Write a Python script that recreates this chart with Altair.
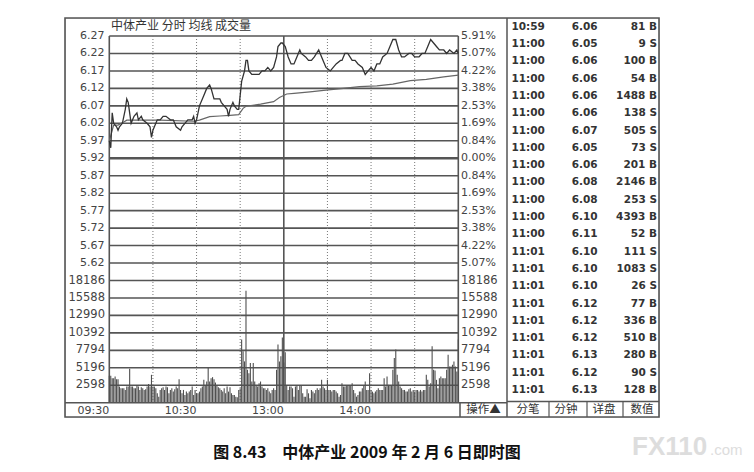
import altair as alt
import pandas as pd

# ---------------- data ----------------
price_minutes = [0, 1, 2, 3, 5, 6, 7, 9, 11, 12, 13, 14, 15, 17, 19, 20, 22, 23, 26, 28, 29, 30, 33, 35, 37, 39,
                 42, 44, 46, 49, 50, 52, 54, 57, 58, 59, 60, 62, 65, 67, 69, 70, 72, 74, 76, 77, 79, 81, 82, 83,
                 85, 86, 88, 89, 90, 91, 93, 94, 95, 96, 98, 100, 103, 105, 107, 109, 111, 113, 115, 116, 118,
                 119, 121, 123, 125, 127, 129, 131, 132, 135, 137, 139, 141, 144, 145, 147, 149, 152, 154, 156,
                 159, 160, 162, 164, 167, 169, 171, 174, 176, 178, 180, 182, 184, 186, 188, 191, 193, 195, 197,
                 199, 201, 203, 206, 208, 210, 213, 215, 217, 219, 221, 223, 225, 227, 230, 232, 234, 237, 239, 240]
price_values = [5.97, 5.95, 6.05, 6.02, 6.01, 6.00, 6.01, 6.02, 6.06, 6.09, 6.08, 6.05, 6.02, 6.04, 6.05, 6.03,
                6.04, 6.03, 6.02, 6.01, 5.98, 6.00, 6.03, 6.03, 6.04, 6.04, 6.03, 6.03, 6.01, 6.00, 6.01, 6.02,
                6.03, 6.03, 6.04, 6.02, 6.03, 6.07, 6.10, 6.12, 6.13, 6.12, 6.09, 6.09, 6.09, 6.08, 6.07, 6.06,
                6.04, 6.06, 6.08, 6.07, 6.06, 6.06, 6.10, 6.14, 6.17, 6.20, 6.20, 6.17, 6.16, 6.16, 6.16, 6.17,
                6.17, 6.18, 6.17, 6.18, 6.21, 6.24, 6.25, 6.25, 6.24, 6.21, 6.19, 6.19, 6.21, 6.23, 6.22, 6.21,
                6.20, 6.20, 6.21, 6.23, 6.22, 6.20, 6.18, 6.17, 6.18, 6.19, 6.20, 6.20, 6.22, 6.22, 6.20, 6.20,
                6.19, 6.18, 6.16, 6.17, 6.18, 6.17, 6.19, 6.19, 6.21, 6.22, 6.24, 6.26, 6.26, 6.23, 6.21, 6.21,
                6.22, 6.22, 6.21, 6.21, 6.22, 6.22, 6.24, 6.26, 6.25, 6.24, 6.23, 6.23, 6.22, 6.23, 6.22, 6.23, 6.22]

avg_minutes = [0, 3, 6, 10, 12, 35, 58, 62, 69, 76, 83, 89, 92, 94, 104, 113, 117, 122, 127, 138, 149, 161,
               172, 184, 195, 207, 218, 230, 240]
avg_values = [5.97, 6.015, 6.015, 6.024, 6.029, 6.029, 6.026, 6.029, 6.039, 6.041, 6.043, 6.045, 6.063, 6.069,
              6.075, 6.082, 6.094, 6.104, 6.106, 6.110, 6.115, 6.120, 6.125, 6.127, 6.132, 6.142, 6.146, 6.153, 6.158]

volume_values = [
    4000, 4000, 3650, 3650, 3900, 3500, 3500, 2400, 2150, 2150,
    2150, 1900, 2400, 2400, 5050, 2400, 2400, 2150, 2150, 2650,
    2400, 1900, 2300, 2150, 1900, 2000, 2400, 2800, 2400, 4150,
    2400, 2400, 2150, 1400, 900, 1900, 2150, 2300, 1900, 2400,
    2300, 1400, 1900, 2150, 1650, 2000, 2400, 2150, 3500, 1900,
    1400, 1900, 1150, 1650, 1400, 1650, 1900, 2400, 1150, 1900,
    1400, 1400, 1650, 2150, 2400, 3400, 2650, 3150, 5150, 3150,
    3650, 3800, 3500, 3000, 2650, 2300, 2150, 1900, 1650, 2150,
    1400, 2400, 1650, 2300, 1400, 1150, 1150, 900, 800, 1900,
    2150, 9400, 7650, 6150, 16650, 4900, 4400, 5900, 3150, 5900,
    3150, 2650, 2400, 2900, 3150, 2400, 2150, 2150, 1900, 2150,
    1650, 1400, 1900, 2150, 1900, 4900, 8650, 6150, 6900, 9700,
    6000, 7500, 2650, 1900, 2400, 2400, 2150, 900, 2400, 2650,
    1900, 2650, 2650, 1400, 900, 900, 2000, 1400, 650, 1900,
    1650, 1400, 1900, 2150, 1900, 2150, 3400, 2400, 2150, 1900,
    3400, 1900, 1900, 1650, 1900, 1900, 1650, 1400, 900, 1150,
    2900, 2400, 2400, 2650, 2650, 2650, 2650, 2900, 1900, 1400,
    900, 1150, 1650, 1650, 2150, 2650, 3150, 1900, 1900, 4400,
    1900, 1650, 1400, 1650, 1900, 2150, 1900, 1900, 1900, 3650,
    2400, 3900, 2650, 2650, 2650, 4900, 6650, 7900, 4150, 3150,
    2400, 2150, 1900, 1900, 1650, 1650, 2000, 2150, 1650, 1900,
    1650, 1900, 1900, 1650, 1900, 1650, 1900, 1900, 4150, 3400,
    2400, 2900, 8400, 4900, 4800, 3400, 2150, 3650, 3900, 3650,
    3650, 3650, 4900, 7150, 5400, 5400, 5650, 6150, 5400, 4650,
    9400]

price_ticks = [6.27, 6.22, 6.17, 6.12, 6.07, 6.02, 5.97, 5.92, 5.87, 5.82, 5.77, 5.72, 5.67, 5.62]
price_tick_labels = ["6.27", "6.22", "6.17", "6.12", "6.07", "6.02", "5.97", "5.92", "5.87", "5.82",
                     "5.77", "5.72", "5.67", "5.62"]
pct_tick_labels = ["5.91%", "5.07%", "4.22%", "3.38%", "2.53%", "1.69%", "0.84%", "0.00%", "0.84%", "1.69%",
                   "2.53%", "3.38%", "4.22%", "5.07%"]
vol_ticks = [18186, 15588, 12990, 10392, 7794, 5196, 2598]
vol_tick_labels = ["18186", "15588", "12990", "10392", "7794", "5196", "2598"]
time_ticks = [0, 60, 120, 180]
time_labels = ["09:30", "10:30", "13:00", "14:00"]
grid_dotted = [30, 60, 90, 150, 180, 210]
grid_solid = [0, 120, 240]

tick_times = ["10:59", "11:00", "11:00", "11:00", "11:00", "11:00", "11:00", "11:00", "11:00", "11:00",
              "11:00", "11:00", "11:00", "11:01", "11:01", "11:01", "11:01", "11:01", "11:01", "11:01",
              "11:01", "11:01"]
tick_prices = ["6.06", "6.05", "6.06", "6.06", "6.06", "6.06", "6.07", "6.05", "6.06", "6.08", "6.08",
               "6.10", "6.11", "6.10", "6.10", "6.10", "6.12", "6.12", "6.12", "6.13", "6.12", "6.13"]
tick_vols = [81, 9, 100, 54, 1488, 138, 505, 73, 201, 2146, 253, 4393, 52, 111, 1083, 26, 77, 336, 510, 280, 90, 128]
tick_sides = ["B", "S", "B", "B", "B", "S", "S", "S", "B", "B", "S", "B", "B", "S", "S", "S", "B", "B", "B", "B",
              "S", "B"]
buttons = ["分笔", "分钟", "详盘", "数值"]

title_text = "中体产业  分时 均线 成交量"
caption_text = "图 8.43　中体产业 2009 年 2 月 6 日即时图"

# ---------------- layout / style ----------------
W, H = 594, 399          # the outer frame
X_RANGE = [44.3, 393.3]
P_RANGE = [262.5, 18]
V_RANGE = [384.7, 262.5]
LINE = "#555555"
NUM = "DejaVu Sans"
CJK = "Noto Sans CJK SC"


def xs():
    return alt.Scale(domain=[0, 240], range=X_RANGE, nice=False, zero=False)


def ps():
    return alt.Scale(domain=[5.57, 6.27], range=P_RANGE, nice=False, zero=False)


def vs():
    return alt.Scale(domain=[0, 18186], range=V_RANGE, nice=False, zero=False)


ONE = pd.DataFrame({"k": [0]})


def hline(y, x1, x2, w=1.5, color=LINE):
    return alt.Chart(ONE).mark_rule(color=color, strokeWidth=w).encode(
        y=alt.value(y), x=alt.value(x1), x2=alt.value(x2))


def vline(x, y1, y2, w=1.5, color=LINE):
    return alt.Chart(ONE).mark_rule(color=color, strokeWidth=w).encode(
        x=alt.value(x), y=alt.value(y1), y2=alt.value(y2))


def label(text, x, y, size=12, font=CJK, align="left", weight="normal", color="#333333", baseline="middle"):
    return alt.Chart(ONE).mark_text(text=text, align=align, baseline=baseline, fontSize=size, font=font,
                                    fontWeight=weight, color=color).encode(x=alt.value(x), y=alt.value(y))


price_df = pd.DataFrame({"minute": price_minutes, "price": price_values})
avg_df = pd.DataFrame({"minute": avg_minutes, "price": avg_values})
vol_df = pd.DataFrame({"minute": list(range(len(volume_values))), "volume": volume_values,
                       "base": [0] * len(volume_values)})
pgrid = pd.DataFrame({"price": price_ticks, "label": price_tick_labels, "pct": pct_tick_labels,
                      "x0": 0, "x1": 240})
vgrid = pd.DataFrame({"volume": vol_ticks, "label": vol_tick_labels, "x0": 0, "x1": 240})
table = pd.DataFrame({"row": list(range(len(tick_times))), "time": tick_times, "price": tick_prices,
                      "vol": [f"{v} {s}" for v, s in zip(tick_vols, tick_sides)]})

layers = []

# frame
layers.append(alt.Chart(ONE).mark_rect(fillOpacity=0, stroke=LINE, strokeWidth=1.6).encode(
    x=alt.value(0), x2=alt.value(W), y=alt.value(0), y2=alt.value(H)))

# horizontal price grid
layers.append(alt.Chart(pgrid).mark_rule(color=LINE).encode(
    x=alt.X("x0:Q", scale=xs(), axis=None), x2="x1:Q",
    y=alt.Y("price:Q", scale=ps(), axis=None),
    strokeWidth=alt.condition("datum.price == 5.92", alt.value(2.4), alt.value(1.6))))
# horizontal volume grid
layers.append(alt.Chart(vgrid).mark_rule(color=LINE, strokeWidth=1.6).encode(
    x=alt.X("x0:Q", scale=xs(), axis=None), x2="x1:Q",
    y=alt.Y("volume:Q", scale=vs(), axis=None)))
# vertical grids
layers.append(alt.Chart(pd.DataFrame({"minute": grid_dotted})).mark_rule(
    color="#777777", strokeWidth=1, strokeDash=[1, 2]).encode(
    x=alt.X("minute:Q", scale=xs(), axis=None), y=alt.value(P_RANGE[1]), y2=alt.value(V_RANGE[0])))
layers.append(alt.Chart(pd.DataFrame({"minute": grid_solid})).mark_rule(
    color=LINE, strokeWidth=1.6).encode(
    x=alt.X("minute:Q", scale=xs(), axis=None), y=alt.value(P_RANGE[1]), y2=alt.value(V_RANGE[0])))

# volume sticks
layers.append(alt.Chart(vol_df).mark_rule(color="#505050", strokeWidth=1.1).encode(
    x=alt.X("minute:Q", scale=xs(), axis=None),
    y=alt.Y("volume:Q", scale=vs(), axis=None), y2="base:Q"))

# average and price lines
layers.append(alt.Chart(avg_df).mark_line(color="#666666", strokeWidth=1.2).encode(
    x=alt.X("minute:Q", scale=xs(), axis=None), y=alt.Y("price:Q", scale=ps(), axis=None)))
layers.append(alt.Chart(price_df).mark_line(color="#333333", strokeWidth=1.3).encode(
    x=alt.X("minute:Q", scale=xs(), axis=None), y=alt.Y("price:Q", scale=ps(), axis=None)))

# axis labels
layers.append(alt.Chart(pgrid).mark_text(align="right", baseline="middle", font=NUM, fontSize=11,
                                         color="#444444").encode(
    x=alt.value(39.5), y=alt.Y("price:Q", scale=ps(), axis=None), text="label:N"))
layers.append(alt.Chart(pgrid).mark_text(align="left", baseline="middle", font=NUM, fontSize=11,
                                         color="#444444").encode(
    x=alt.value(396), y=alt.Y("price:Q", scale=ps(), axis=None), text="pct:N"))
layers.append(alt.Chart(vgrid).mark_text(align="right", baseline="middle", font=NUM, fontSize=11.5,
                                         color="#444444").encode(
    x=alt.value(40), y=alt.Y("volume:Q", scale=vs(), axis=None), text="label:N"))
layers.append(alt.Chart(vgrid).mark_text(align="left", baseline="middle", font=NUM, fontSize=11.5,
                                         color="#444444").encode(
    x=alt.value(396), y=alt.Y("volume:Q", scale=vs(), axis=None), text="label:N"))
layers.append(alt.Chart(pd.DataFrame({"minute": time_ticks, "label": time_labels})).mark_text(
    align="right", baseline="middle", font=NUM, fontSize=11, color="#444444").encode(
    x=alt.X("minute:Q", scale=xs(), axis=None), y=alt.value(392.5), text="label:N"))

# separators of the bottom row / table
layers.append(hline(V_RANGE[0], 0, 442))
layers.append(vline(395, V_RANGE[0], H))
layers.append(vline(442, 0, H))
layers.append(hline(383.5, 442, W))
for xx in [484, 522, 558]:
    layers.append(vline(xx, 383.5, H, w=1.2))

# title & bottom row texts
layers.append(label(title_text, 46, 8, size=12))
layers.append(label("操作▲", 418.5, 392, size=11.5, align="center"))
layers.append(alt.Chart(pd.DataFrame({"b": buttons})).mark_text(
    baseline="middle", align="center", font=CJK, fontSize=11.5, color="#333333").encode(
    x=alt.X("b:N", sort=buttons, scale=alt.Scale(type="point", domain=buttons, range=[463, 577], padding=0),
            axis=None),
    y=alt.value(392), text="b:N"))

# tick table
rs = alt.Scale(domain=[0, 21], range=[8.7, 372], nice=False, zero=False)
for col, xpos, al in [("time", 446.5, "left"), ("price", 506.7, "left"), ("vol", 592, "right")]:
    layers.append(alt.Chart(table).mark_text(align=al, baseline="middle", font=NUM, fontSize=10.5,
                                             fontWeight="bold", color="#333333").encode(
        x=alt.value(xpos), y=alt.Y("row:Q", scale=rs, axis=None), text=f"{col}:N"))

# caption and watermark
layers.append(label(caption_text, 302, 435, size=16, weight="bold", align="center", color="#111111"))
layers.append(label("FX110", 567, 437, size=26, font="Liberation Sans", weight="bold", color="#dddddd",
                    baseline="alphabetic"))
layers.append(label(".com", 645, 437, size=15, font="Liberation Sans", color="#dddddd",
                    baseline="alphabetic"))

chart = alt.layer(*layers).resolve_scale(x="independent", y="independent").properties(
    width=W, height=H,
    autosize=alt.AutoSizeParams(type="none"),
    padding={"left": 57, "top": 10, "right": 87, "bottom": 47},
).configure_view(stroke=None).configure(background="white")

chart.save("out.html", embed_options={"renderer": "svg", "actions": False})
